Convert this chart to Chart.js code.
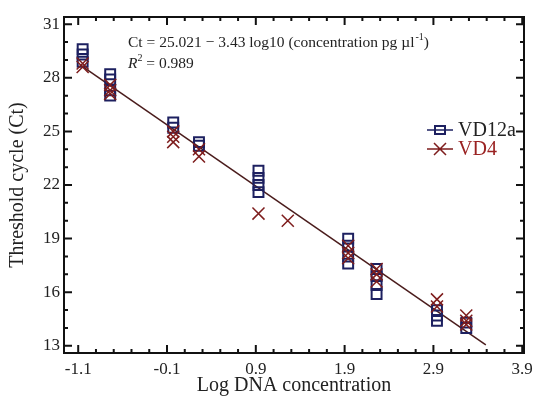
<!DOCTYPE html>
<html>
<head>
<meta charset="utf-8">
<script src="https://cdn.jsdelivr.net/npm/chart.js@4/dist/chart.umd.min.js"></script>
<style>
  body { margin: 0; background: #fff; }
  canvas { display: block; }
</style>
</head>
<body>
<canvas id="ctChart" width="535" height="401"></canvas>
<script>
// Значения
const vd12aX = [-1.05, -1.05, -1.05, -0.74, -0.74, -0.74, -0.74, -0.03, -0.03, 0.26, 0.26,
                0.93, 0.93, 0.93, 0.93, 1.94, 1.94, 1.94, 1.94, 2.26, 2.26, 2.26, 2.26,
                2.94, 2.94, 2.94, 3.27, 3.27];
const vd12aY = [29.6, 29.3, 28.9, 28.2, 27.9, 27.3, 27.0, 25.5, 25.2, 24.4, 24.2,
                22.8, 22.4, 22.0, 21.6, 19.0, 18.6, 18.0, 17.6, 17.3, 16.9, 16.4, 15.9,
                15.0, 14.7, 14.4, 14.3, 14.0];
const vd4X = [-1.05, -1.05, -0.74, -0.74, -0.74, -0.03, -0.03, -0.03, 0.26, 0.26,
              0.93, 1.26, 1.94, 1.94, 1.94, 2.26, 2.26, 2.26, 2.94, 2.94, 3.27, 3.27, 3.27];
const vd4Y = [28.8, 28.6, 27.6, 27.3, 27.1, 25.0, 24.7, 24.4, 24.0, 23.6,
              20.4, 20.0, 18.6, 18.2, 17.9, 17.3, 17.0, 16.6, 15.6, 15.2, 14.7, 14.4, 14.2];
// Линия регрессии (концы)
const fitX = [-1.07, 3.49];
const fitY = [28.69, 13.05];

const xMajor = [-1.1, -0.1, 0.9, 1.9, 2.9, 3.9];
const yMajor = [13, 16, 19, 22, 25, 28, 31];

const NAVY = "#1d2060";
const DARKRED = "#7e1d1d";
const FONT = "'Liberation Serif', 'Times New Roman', serif";

function toPoints(xs, ys) {
    return xs.map((x, i) => ({ x: x, y: ys[i] }));
}

// Деления: каждые 0.2 по X, каждую 1 по Y
const xTicks = [];
for (let i = 0; i <= 25; i++) xTicks.push(Math.round((-1.1 + i * 0.2) * 10) / 10);
const yTicks = [];
for (let v = 13; v <= 31; v++) yTicks.push(v);

function isMajor(list, v) {
    return list.some(m => Math.abs(m - v) < 1e-6);
}

// Рамка с внутренними делениями, формула и легенда
const framePlugin = {
    id: "frame",
    afterDatasetsDraw(chart) {
        const ctx = chart.ctx;
        const a = chart.chartArea;
        const xs = chart.scales.x, ys = chart.scales.y;
        ctx.save();
        ctx.strokeStyle = "#111";
        ctx.lineWidth = 2;
        ctx.strokeRect(a.left, a.top, a.right - a.left, a.bottom - a.top);
        ctx.beginPath();
        xTicks.forEach(v => {
            const px = xs.getPixelForValue(v);
            const len = isMajor(xMajor, v) ? 8 : 4;
            ctx.moveTo(px, a.bottom); ctx.lineTo(px, a.bottom - len);
            ctx.moveTo(px, a.top); ctx.lineTo(px, a.top + len);
        });
        yTicks.forEach(v => {
            const py = ys.getPixelForValue(v);
            const len = isMajor(yMajor, v) ? 8 : 4;
            ctx.moveTo(a.left, py); ctx.lineTo(a.left + len, py);
            ctx.moveTo(a.right, py); ctx.lineTo(a.right - len, py);
        });
        ctx.stroke();

        // формула
        ctx.fillStyle = "#222";
        ctx.textBaseline = "alphabetic";
        ctx.font = "15.5px " + FONT;
        let x = 128, y = 47;
        const eq = "Ct = 25.021 \u2212 3.43 log10 (concentration pg \u00b5l";
        ctx.fillText(eq, x, y);
        x += ctx.measureText(eq).width;
        ctx.font = "10px " + FONT;
        ctx.fillText("-1", x + 1, y - 7);
        x += ctx.measureText("-1").width + 1;
        ctx.font = "15.5px " + FONT;
        ctx.fillText(")", x, y);

        x = 128; y = 68;
        ctx.font = "italic 15.5px " + FONT;
        ctx.fillText("R", x, y);
        x += ctx.measureText("R").width;
        ctx.font = "10px " + FONT;
        ctx.fillText("2", x, y - 7);
        x += ctx.measureText("2").width;
        ctx.font = "15.5px " + FONT;
        ctx.fillText(" = 0.989", x, y);

        // легенда
        ctx.lineWidth = 1.5;
        ctx.strokeStyle = NAVY;
        ctx.beginPath(); ctx.moveTo(427, 130); ctx.lineTo(453, 130); ctx.stroke();
        ctx.lineWidth = 2;
        ctx.strokeRect(435, 126, 10, 8);
        ctx.strokeStyle = DARKRED;
        ctx.lineWidth = 1.5;
        ctx.beginPath(); ctx.moveTo(427, 149); ctx.lineTo(453, 149);
        ctx.moveTo(434, 143); ctx.lineTo(446, 155);
        ctx.moveTo(446, 143); ctx.lineTo(434, 155);
        ctx.stroke();
        ctx.font = "20px " + FONT;
        ctx.textBaseline = "middle";
        ctx.fillStyle = "#222";
        ctx.fillText("VD12a", 458, 131);
        ctx.fillStyle = "#9a2222";
        ctx.fillText("VD4", 458, 150);
        ctx.restore();
    }
};

new Chart(document.getElementById("ctChart").getContext("2d"), {
    type: "scatter",
    data: {
        datasets: [
            {
                type: "line",
                label: "fit",
                data: toPoints(fitX, fitY),
                borderColor: "#4a1c1c",
                borderWidth: 1.5,
                pointRadius: 0,
                order: 3
            },
            {
                label: "VD12a",
                data: toPoints(vd12aX, vd12aY),
                pointStyle: "rect",
                pointRadius: 7,
                borderColor: NAVY,
                backgroundColor: "rgba(255,255,255,0)",
                borderWidth: 2,
                order: 2
            },
            {
                label: "VD4",
                data: toPoints(vd4X, vd4Y),
                pointStyle: "crossRot",
                pointRadius: 8.5,
                borderColor: DARKRED,
                borderWidth: 1.5,
                order: 1
            }
        ]
    },
    options: {
        responsive: false,
        animation: false,
        layout: { padding: { top: 17, right: 11, left: 0, bottom: 0 } },
        plugins: {
            legend: { display: false },
            tooltip: { enabled: false }
        },
        scales: {
            x: {
                type: "linear",
                min: -1.26,
                max: 3.92,
                afterBuildTicks: s => { s.ticks = xTicks.map(v => ({ value: v })); },
                afterFit: s => { s.height = 48; s.paddingLeft = 0; s.paddingRight = 0; },
                grid: { display: false, drawTicks: false },
                border: { display: false },
                ticks: {
                    autoSkip: false,
                    maxRotation: 0,
                    padding: 6,
                    color: "#222",
                    font: { family: FONT, size: 17 },
                    callback: v => isMajor(xMajor, v) ? v.toFixed(1) : ""
                },
                title: {
                    display: true,
                    text: "Log DNA concentration",
                    color: "#222",
                    font: { family: FONT, size: 20 },
                    padding: { top: 0, bottom: 3 }
                }
            },
            y: {
                min: 12.6,
                max: 31.4,
                afterBuildTicks: s => { s.ticks = yTicks.map(v => ({ value: v })); },
                afterFit: s => { s.width = 64; s.paddingTop = 0; s.paddingBottom = 0; },
                grid: { display: false, drawTicks: false },
                border: { display: false },
                ticks: {
                    autoSkip: false,
                    padding: 4,
                    color: "#222",
                    font: { family: FONT, size: 17 },
                    callback: v => isMajor(yMajor, v) ? String(v) : ""
                },
                title: {
                    display: true,
                    text: "Threshold cycle (Ct)",
                    color: "#222",
                    font: { family: FONT, size: 20 },
                    padding: { top: 6, bottom: 4 }
                }
            }
        }
    },
    plugins: [framePlugin]
});
</script>
</body>
</html>
